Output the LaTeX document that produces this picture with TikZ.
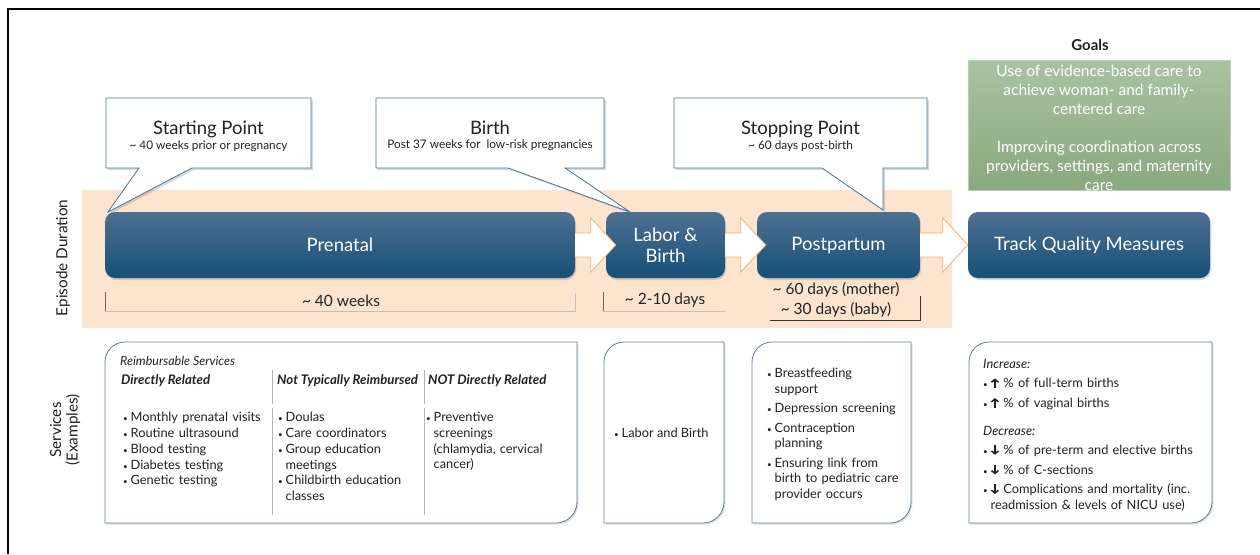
\documentclass[tikz,border=0pt]{standalone}
\usepackage{fontspec}
\setmainfont{Lato}
\usetikzlibrary{calc,shadows,arrows.meta}

\definecolor{bandPeach}{HTML}{FCE4CE}
\definecolor{phaseTop}{HTML}{4F7090}
\definecolor{phaseMid}{HTML}{1D5A86}
\definecolor{phaseBot}{HTML}{164F78}
\definecolor{arrowEdge}{HTML}{F0B27A}
\definecolor{calloutEdge}{HTML}{4B7697}
\definecolor{goalTop}{HTML}{A8C3A0}
\definecolor{goalBot}{HTML}{89A97F}
\definecolor{goalEdge}{HTML}{B9CFB3}
\definecolor{svcEdge}{HTML}{5F7F9C}
\definecolor{ruleGray}{HTML}{B4B4B4}
\definecolor{inkDark}{HTML}{222222}

\newcommand{\smallDot}{\makebox[7.5pt][l]{\fontsize{8}{8}\selectfont\textbullet}}
\newcommand{\dotItem}[1]{\hangindent=7.5pt\hangafter=1\noindent\smallDot#1\par}
\newcommand{\upArr}{\tikz[x=1pt,y=1pt,baseline=0pt]
  \draw[line width=1.5pt,-{Straight Barb[length=2.8pt,width=7pt]}] (0,0) -- (0,9.5);}
\newcommand{\downArr}{\tikz[x=1pt,y=1pt,baseline=0pt]
  \draw[line width=1.5pt,-{Straight Barb[length=2.8pt,width=7pt]}] (0,9.5) -- (0,0);}

\begin{document}
\begin{tikzpicture}
[x=1pt, y=-1pt,
  phaseBox/.style={rounded corners=10pt, minimum height=66pt, inner sep=2pt,
    top color=phaseTop, middle color=phaseMid, bottom color=phaseBot,
    text=white, align=center, font=\fontsize{18.5}{21}\selectfont,
    drop shadow={opacity=0.3, shadow xshift=1pt, shadow yshift=-2pt}},
  blockArrow/.style={draw=arrowEdge, fill=white, line width=0.8pt},
  calloutShape/.style={draw=calloutEdge, fill=white, line width=0.8pt,
    drop shadow={opacity=0.3, shadow xshift=2pt, shadow yshift=-2pt}},
  calloutText/.style={align=center, inner sep=0pt, text=inkDark},
  spanText/.style={inner sep=0pt, text=inkDark, align=center,
    font=\fontsize{15.5}{20}\selectfont},
  sideLabel/.style={rotate=90, inner sep=0pt, text=inkDark, align=center,
    font=\fontsize{15.3}{16.5}\selectfont},
  svcBox/.style={draw=svcEdge, fill=white, line width=0.8pt,
    drop shadow={opacity=0.25, shadow xshift=1.5pt, shadow yshift=-1.5pt}},
  svcText/.style={inner sep=0pt, anchor=north west, align=left, text=inkDark,
    font=\fontsize{12.8}{15.8}\selectfont},
  colRule/.style={draw=ruleGray, line width=0.8pt}]
\useasboundingbox (0,0) rectangle (1260,554);
%% frame and episode band
\draw[line width=2pt] (8,554) -- (8,9) -- (1260,9);
\fill[bandPeach] (82,190) rectangle (952,328);
%% callouts
\coordinate (startTip) at (108,212);
\coordinate (birthTip) at (630,212);
\coordinate (stopTip) at (883,210);
\foreach \name/\xa/\xb/\ta/\tb/\tip/\title/\sub in {
  startPt/106/311/139/192/startTip/Starting Point/{\textasciitilde{} 40 weeks prior or pregnancy},
  birthPt/376/604/508/565/birthTip/Birth/{Post 37 weeks for \ low-risk pregnancies},
  stopPt/674/927/822/883/stopTip/Stopping Point/{\textasciitilde{} 60 days post-birth}}
{
  \draw[calloutShape] (\xa,98) -- (\xb,98) -- (\xb,168) -- (\tb,168) -- (\tip)
    -- (\ta,168) -- (\xa,168) -- cycle;
  \node[calloutText] (\name) at ({(\xa+\xb)/2},136)
    {{\fontsize{18.5}{20}\selectfont \title}\\[2pt]{\fontsize{11.8}{13}\selectfont \sub}};
}
%% phases
\foreach \nodename/\x/\w/\txt in {
  prenatal/340/470pt/Prenatal, labor/665.5/119pt/{Labor \&\\Birth},
  postpartum/838.5/163pt/Postpartum, track/1089/242pt/Track Quality Measures}
{
  \node[phaseBox, minimum width=\w] (\nodename) at (\x,245) {\txt};
}
%% arrows between phases
\foreach \from/\to/\ov in {prenatal/labor/10pt, labor/postpartum/9pt, postpartum/track/0pt}
{
  \draw[blockArrow] let \p1=(\from.east), \p2=(\to.west) in
    ({\x1},{\y1-12pt}) -- ({\x2+\ov-25pt},{\y1-12pt}) -- ({\x2+\ov-25pt},{\y1-27pt})
    -- ({\x2+\ov},{\y1}) -- ({\x2+\ov-25pt},{\y1+27pt}) -- ({\x2+\ov-25pt},{\y1+12pt})
    -- ({\x1},{\y1+12pt});
}
%% durations
\node[spanText] (spanPrenatal) at (341,301) {\textasciitilde{} 40 weeks};
\node[spanText] (spanLabor) at (665,300) {\textasciitilde{} 2-10 days};
\node[spanText] (spanPost) at (836,300) {\textasciitilde{} 60 days (mother)\\\textasciitilde{} 30 days (baby)};
\draw[black!60] (105,292) -- (105,311);
\draw[black!25] (105,311) -- (575,311) -- (575,293);
\draw[black!60] (603,292) -- (603,311);
\draw[black!25] (603,311) -- (725,311);
\draw[black!80] (770,320) -- (920,320) -- (920,296);
%% side labels
\node[sideLabel] (episodeLbl) at (63,258) {Episode Duration};
\node[sideLabel] (servicesLbl) at (65,430) {Services\\(Examples)};
%% goals
\node[inner sep=0pt, text=inkDark, font=\bfseries\fontsize{15}{17}\selectfont] (goalsTitle) at (1090,45) {Goals};
\node[minimum width=262pt, minimum height=130pt, inner sep=0pt,
  top color=goalTop, bottom color=goalBot, draw=goalEdge, text=white, align=center,
  font=\fontsize{15.5}{19}\selectfont] (goalsBox) at (1099,125) {};
\node[inner sep=0pt, text=white, align=center, font=\fontsize{15.5}{19}\selectfont]
  (goalsText) at (1099,128)
  {Use of evidence-based care to\\achieve woman- and family-\\centered care\\[19pt]
   Improving coordination across\\providers, settings, and maternity\\care};
%% services boxes
\foreach \xa/\xb in {105/577, 604/724, 752/911, 969/1212}
{
  \draw[svcBox] (\xa,523) -- (\xa,362) arc[start angle=180, end angle=90, radius=20pt]
    -- (\xb,342) -- (\xb,502) arc[start angle=0, end angle=-90, radius=21pt] -- cycle;
}
%% prenatal services
\node[svcText, anchor=west, font=\itshape\fontsize{12.5}{14}\selectfont] (reimbLbl) at (120,361) {Reimbursable Services};
\foreach \name/\x/\txt in {hdrDirect/121/Directly Related,
  hdrNotReimb/277/Not Typically Reimbursed, hdrNotDirect/428/NOT Directly Related}
{
  \node[svcText, anchor=west, font=\bfseries\itshape\fontsize{13.2}{15}\selectfont] (\name) at (\x,381) {\txt};
}
\foreach \x in {272,424}
{
  \draw[colRule] (\x,370) -- (\x,404);
  \draw[colRule] (\x,408) -- (\x,515);
}
\node[svcText, text width=148pt] (colDirect) at (123,412)
  {\dotItem{Monthly prenatal visits}\dotItem{Routine ultrasound}\dotItem{Blood testing}%
   \dotItem{Diabetes testing}\dotItem{Genetic testing}};
\node[svcText, text width=142pt] (colNotReimb) at (278,412)
  {\dotItem{Doulas}\dotItem{Care coordinators}\dotItem{Group education\newline meetings}%
   \dotItem{Childbirth education\newline classes}};
\node[svcText, text width=142pt] (colNotDirect) at (426,412)
  {\dotItem{Preventive\newline screenings\newline (chlamydia, cervical\newline cancer)}};
%% labor, postpartum and quality items
\node[svcText, anchor=west] (laborItem) at (614,433) {\smallDot Labor and Birth};
\node[svcText, text width=142pt] (postItems) at (767,368)
  {\setlength{\parskip}{3.5pt}%
   \dotItem{Breastfeeding\newline support}\dotItem{Depression screening}%
   \dotItem{Contraception\newline planning}%
   \dotItem{Ensuring link from\newline birth to pediatric care\newline provider occurs}};
\node[svcText, text width=230pt] (qualItems) at (983,359)
  {\setlength{\parskip}{3.8pt}%
   \noindent{\itshape Increase:}\par
   \dotItem{\upArr\ \% of full-term births}%
   \dotItem{\upArr\ \% of vaginal births}\vspace{8pt}%
   \noindent{\itshape Decrease:}\par
   \dotItem{\downArr\ \% of pre-term and elective births}%
   \dotItem{\downArr\ \% of C-sections}%
   \dotItem{\downArr\ Complications and mortality (inc.\newline readmission \& levels of NICU use)}};
\end{tikzpicture}
\end{document}
